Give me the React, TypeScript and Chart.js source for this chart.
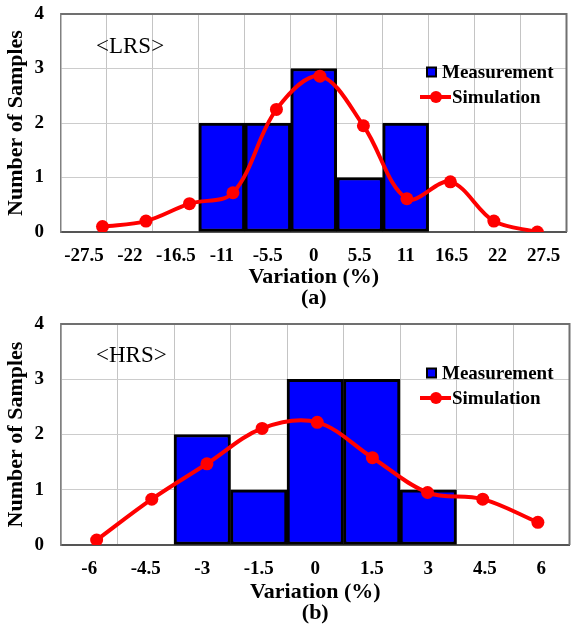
import React, { useEffect, useRef } from 'react';
import { Chart, registerables } from 'chart.js';

Chart.register(...registerables);

// ---------- data ----------
const lrsCategories = ['-27.5', '-22', '-16.5', '-11', '-5.5', '0', '5.5', '11', '16.5', '22', '27.5'];
const lrsMeasurement = [null, null, null, 2, 2, 3, 1, 2, null, null, null];
const lrsSimX = [-27.5, -22, -16.5, -11, -5.5, 0, 5.5, 11, 16.5, 22, 27.5];
const lrsSimulation = [0.1, 0.2, 0.52, 0.72, 2.25, 2.86, 1.95, 0.61, 0.92, 0.2, 0.0];

const hrsCategories = ['-6', '-4.5', '-3', '-1.5', '0', '1.5', '3', '4.5', '6'];
const hrsMeasurement = [null, null, 2, 1, 3, 3, 1, null, null];
const hrsSimX = [-6, -4.5, -3, -1.5, 0, 1.5, 3, 4.5, 6];
const hrsSimulation = [0.09, 0.83, 1.47, 2.11, 2.22, 1.58, 0.95, 0.83, 0.41];

const yMin = 0;
const yMax = 4;
const yStep = 1;

const FONT = "'Liberation Serif', 'Times New Roman', serif";

type PanelProps = {
  categories: string[];
  measurement: (number | null)[];
  simX: number[];
  simulation: number[];
  tag: string;
  sub: string;
  width: number;
  height: number;
  plotBottom: number;
  x2min: number;
  x2max: number;
  titlePadBottom: number;
  legendY: number;
  tagY: number;
};

function Panel(p: PanelProps) {
  const ref = useRef<HTMLCanvasElement | null>(null);
  useEffect(() => {
    if (!ref.current) return;
    const overlay = {
      id: 'overlay',
      afterDatasetsDraw(chart: any) {
        const ctx = chart.ctx;
        const a = chart.chartArea;
        ctx.save();
        // top / right plot border
        ctx.strokeStyle = '#707070';
        ctx.lineWidth = 2;
        ctx.beginPath();
        ctx.moveTo(a.left, a.top);
        ctx.lineTo(a.right, a.top);
        ctx.lineTo(a.right, a.bottom);
        ctx.stroke();
        // tag text
        ctx.fillStyle = '#000';
        ctx.font = `23px ${FONT}`;
        ctx.textBaseline = 'middle';
        ctx.textAlign = 'left';
        ctx.fillText(p.tag, 96, p.tagY);
        // legend
        const ly = p.legendY;
        ctx.fillStyle = '#0000ff';
        ctx.strokeStyle = '#000';
        ctx.lineWidth = 2;
        ctx.fillRect(427, ly - 4.5, 9, 9);
        ctx.strokeRect(427, ly - 4.5, 9, 9);
        ctx.fillStyle = '#000';
        ctx.font = `bold 19px ${FONT}`;
        ctx.fillText('Measurement', 442, ly + 1);
        const ly2 = ly + 25;
        ctx.strokeStyle = '#ff0000';
        ctx.lineWidth = 4;
        ctx.beginPath();
        ctx.moveTo(420, ly2);
        ctx.lineTo(451, ly2);
        ctx.stroke();
        ctx.fillStyle = '#ff0000';
        ctx.beginPath();
        ctx.arc(436, ly2, 6, 0, Math.PI * 2);
        ctx.fill();
        ctx.fillStyle = '#000';
        ctx.fillText('Simulation', 452, ly2 + 1);
        ctx.restore();
      },
    };
    const chart = new Chart(ref.current, {
      type: 'line',
      data: {
        labels: p.categories,
        datasets: [
          {
            type: 'line',
            label: 'Simulation',
            xAxisID: 'x2',
            data: p.simX.map((x, i) => ({ x, y: p.simulation[i] })),
            borderColor: '#ff0000',
            backgroundColor: '#ff0000',
            borderWidth: 4,
            pointRadius: 6.5,
            pointBackgroundColor: '#ff0000',
            pointBorderWidth: 0,
            tension: 0.35,
            order: 0,
          } as any,
          {
            type: 'bar',
            label: 'Measurement',
            xAxisID: 'x',
            data: p.measurement,
            backgroundColor: '#0000ff',
            borderColor: '#000000',
            borderWidth: 3,
            borderSkipped: false,
            barPercentage: 1,
            categoryPercentage: 1,
            grouped: false,
            order: 1,
          } as any,
        ],
      },
      options: {
        responsive: false,
        animation: false,
        layout: { padding: { top: 14, left: 0, right: 0, bottom: 0 } },
        plugins: { legend: { display: false }, tooltip: { enabled: false } },
        scales: {
          x: {
            type: 'category',
            offset: true,
            grid: { offset: true, color: '#c4c4c4', lineWidth: 1, drawTicks: false },
            border: { display: true, color: '#555555', width: 2 },
            ticks: {
              color: '#000',
              font: { family: FONT, size: 19, weight: 'bold' },
              padding: 13,
              maxRotation: 0,
              autoSkip: false,
            },
            title: {
              display: true,
              text: ['Variation (%)', p.sub],
              color: '#000',
              font: { family: FONT, size: 22, weight: 'bold', lineHeight: 0.95 },
              padding: { top: 0, bottom: p.titlePadBottom },
            },
            afterFit: (s: any) => {
              s.height = p.height - p.plotBottom;
              s.paddingLeft = 0;
              s.paddingRight = 0;
            },
          },
          x2: {
            type: 'linear',
            axis: 'x',
            display: false,
            offset: false,
            grid: { offset: false },
            min: p.x2min,
            max: p.x2max,
          },
          y: {
            min: yMin,
            max: yMax,
            ticks: {
              stepSize: yStep,
              color: '#000',
              font: { family: FONT, size: 19, weight: 'bold' },
              padding: 17,
            },
            grid: { color: '#cccccc', lineWidth: 1, drawTicks: false },
            border: { display: true, color: '#808080', width: 1.5 },
            title: {
              display: true,
              text: 'Number of Samples',
              color: '#000',
              font: { family: FONT, size: 22, weight: 'bold', lineHeight: 1.2 },
              padding: { top: 3, bottom: 0 },
            },
            afterFit: (s: any) => {
              s.width = 61;
              s.paddingTop = 0;
              s.paddingBottom = 0;
            },
          },
        },
      } as any,
      plugins: [overlay],
    });
    return () => chart.destroy();
  }, []);
  return <canvas ref={ref} width={p.width} height={p.height} style={{ display: 'block' }} />;
}

export default function App() {
  return (
    <div
      style={{
        position: 'fixed',
        left: 0,
        top: 0,
        width: 571,
        height: 624,
        overflow: 'hidden',
        background: '#fff',
      }}
    >
      <Panel
        categories={lrsCategories}
        measurement={lrsMeasurement}
        simX={lrsSimX}
        simulation={lrsSimulation}
        tag="<LRS>"
        sub="(a)"
        width={573}
        height={310}
        plotBottom={232}
        x2min={-32.75}
        x2max={31.19}
        titlePadBottom={1}
        legendY={72}
        tagY={47}
      />
      <Panel
        categories={hrsCategories}
        measurement={hrsMeasurement}
        simX={hrsSimX}
        simulation={hrsSimulation}
        tag="<HRS>"
        sub="(b)"
        width={576}
        height={314}
        plotBottom={235}
        x2min={-6.969}
        x2max={6.86}
        titlePadBottom={0}
        legendY={63}
        tagY={46}
      />
    </div>
  );
}
